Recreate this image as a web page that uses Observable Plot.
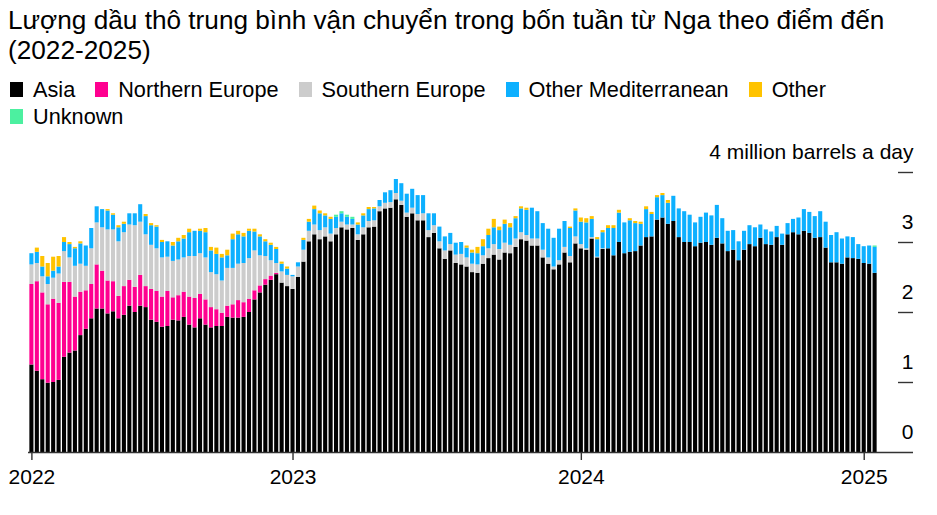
<!DOCTYPE html>
<html>
<head>
<meta charset="utf-8">
<script src="https://cdn.jsdelivr.net/npm/d3@7"></script>
<script src="https://cdn.jsdelivr.net/npm/@observablehq/plot@0.6"></script>
<style>
  html, body { margin: 0; padding: 0; background: #fff; }
  body { width: 937px; height: 515px; overflow: hidden; font-family: "Liberation Sans", Arial, sans-serif; color: #000; }
  #title { margin: 5px 0 0 8px; height: 60px; font-size: 26.2px; line-height: 30px; white-space: nowrap; }
  #legend { margin: 11px 0 0 10px; height: 54px; width: 927px; font-size: 21.7px; line-height: 27px; display: flex; flex-wrap: wrap; }
  .item { display: inline-flex; align-items: center; margin-right: 20px; height: 27px; }
  .sw { width: 13px; height: 15px; margin-right: 10px; display: inline-block; }
  #chart svg { display: block; }
</style>
</head>
<body>
<div id="title">Lượng dầu thô trung bình vận chuyển trong bốn tuần từ Nga theo điểm đến<br>(2022-2025)</div>
<div id="legend"></div>
<div id="chart"></div>
<script>
// Series names and colours
const seriesNames = ["Asia", "Northern Europe", "Southern Europe", "Other Mediterranean", "Other", "Unknown"];
const seriesColors = ["#000000", "#ff0090", "#cccccc", "#0db0ff", "#ffc300", "#4cf0a0"];

// Weekly periods (week ending Sunday), 30 Jan 2022 – 19 Jan 2025
const weeks = d3.utcWeek.range(new Date(Date.UTC(2022, 0, 30)), new Date(Date.UTC(2025, 0, 20)));

// Values, million barrels a day
const asia = [1.25,1.16,1.04,0.99,1.00,1.03,1.36,1.42,1.45,1.67, 1.76,1.91,2.05,2.05,1.98,2.01,1.91,1.96,2.09,2.00,
  2.09,2.07,1.89,1.86,1.79,1.80,1.89,1.88,1.93,1.82, 1.78,1.91,1.82,1.78,1.80,1.80,1.93,1.92,1.92,1.93,
  2.00,2.18,2.28,2.39,2.46,2.54,2.42,2.37,2.33,2.50, 2.72,3.01,3.11,3.04,3.08,3.01,3.11,3.21,3.18,3.20,
  3.03,3.11,3.21,3.22,3.44,3.48,3.49,3.61,3.53,3.36, 3.41,3.31,3.31,3.07,3.13,2.91,2.76,2.88,2.70,2.68,
  2.65,2.57,2.56,2.69,2.77,2.82,2.75,2.85,2.84,2.93, 3.04,3.02,2.95,2.95,2.78,2.69,2.61,2.68,2.85,2.71,
  2.98,2.91,2.89,3.05,2.78,2.90,2.91,2.81,3.00,2.84, 2.86,2.87,2.95,3.07,3.08,3.32,3.35,3.26,3.30,3.07,
  3.00,3.00,2.94,2.99,3.00,2.96,3.06,2.98,2.87,2.89, 2.74,2.89,2.97,2.94,3.06,2.97,2.96,3.07,2.96,3.11,
  3.14,3.11,3.16,3.13,3.06,3.07,2.92,2.71,2.71,2.69, 2.78,2.77,2.76,2.70,2.69,2.56];

const northernEurope = [1.15,1.28,1.24,1.12,1.19,1.10,1.07,1.01,0.77,0.62, 0.55,0.49,0.63,0.54,0.47,0.43,0.32,0.41,0.37,0.36,
  0.44,0.30,0.44,0.44,0.43,0.50,0.32,0.36,0.36,0.40, 0.42,0.35,0.36,0.29,0.24,0.19,0.16,0.19,0.25,0.21,
  0.19,0.13,0.10,0.08,0.06,0.02,0,0,0,0, 0,0,0,0,0,0,0,0,0,0,
  0,0,0,0,0,0,0,0,0,0, 0,0,0,0,0,0,0,0,0,0,
  0,0,0,0,0,0,0,0,0,0, 0,0,0,0,0,0,0,0,0,0,
  0,0,0,0,0,0,0,0,0,0, 0,0,0,0,0,0,0,0,0,0,
  0,0,0,0,0,0,0,0,0,0, 0,0,0,0,0,0,0,0,0,0,
  0,0,0,0,0,0,0,0,0,0, 0,0,0,0,0,0];

const southernEurope = [0.28,0.26,0.23,0.29,0.30,0.42,0.44,0.35,0.44,0.40, 0.35,0.51,0.60,0.62,0.73,0.74,0.78,0.77,0.79,0.88,
  0.76,0.74,0.63,0.61,0.56,0.49,0.52,0.51,0.49,0.58, 0.60,0.58,0.60,0.50,0.50,0.46,0.54,0.52,0.52,0.56,
  0.58,0.57,0.43,0.33,0.22,0.14,0.16,0.16,0.18,0.15, 0.17,0.15,0.14,0.13,0.13,0.11,0.09,0.08,0.07,0.05,
  0.08,0.10,0.09,0.09,0.07,0.08,0.08,0.09,0.06,0.06, 0.08,0.09,0.10,0.10,0.11,0.10,0.12,0.09,0.12,0.15,
  0.13,0.12,0.12,0.12,0.14,0.15,0.15,0.14,0.12,0.12, 0.10,0.08,0.10,0.10,0.11,0.09,0.04,0.06,0.08,0.09,
  0.10,0.06,0.02,0.02,0.01,0.01,0,0,0,0, 0,0,0,0,0,0,0,0,0,0,
  0,0,0,0,0,0,0,0,0,0, 0,0,0,0,0,0,0,0,0,0,
  0,0,0,0,0,0,0,0,0,0, 0,0,0,0,0,0];

const otherMediterranean = [0.16,0.16,0.14,0.11,0.10,0.10,0.13,0.19,0.25,0.29, 0.29,0.29,0.23,0.26,0.27,0.21,0.20,0.12,0.16,0.17,
  0.25,0.26,0.28,0.31,0.22,0.22,0.22,0.26,0.27,0.34, 0.36,0.32,0.36,0.31,0.29,0.33,0.18,0.41,0.42,0.38,
  0.39,0.27,0.27,0.21,0.22,0.20,0.11,0.09,0.02,0.06, 0.14,0.13,0.22,0.24,0.17,0.21,0.16,0.12,0.11,0.08,
  0.14,0.17,0.17,0.17,0.09,0.15,0.17,0.20,0.25,0.27, 0.27,0.27,0.26,0.24,0.17,0.21,0.20,0.16,0.17,0.17,
  0.14,0.16,0.16,0.13,0.19,0.24,0.27,0.27,0.25,0.29, 0.34,0.36,0.44,0.39,0.38,0.41,0.41,0.45,0.37,0.40,
  0.37,0.32,0.37,0.26,0.25,0.23,0.29,0.39,0.42,0.44, 0.45,0.40,0.31,0.40,0.32,0.32,0.32,0.30,0.36,0.41,
  0.44,0.39,0.34,0.37,0.42,0.42,0.47,0.36,0.29,0.28, 0.27,0.27,0.27,0.27,0.19,0.21,0.19,0.16,0.16,0.16,
  0.19,0.24,0.31,0.30,0.31,0.37,0.37,0.39,0.43,0.36, 0.30,0.30,0.21,0.24,0.26,0.37];

const other = [0,0.06,0.15,0.19,0.20,0.15,0.07,0.03,0.02,0.03, 0,0,0,0,0.02,0.02,0.03,0.03,0,0,
  0,0.03,0.03,0.02,0.03,0,0.05,0.05,0.05,0.05, 0,0.03,0.06,0.05,0.09,0.05,0.08,0.08,0.05,0.05,
  0.03,0.04,0.03,0.03,0.03,0.03,0.03,0.03,0,0, 0.03,0.04,0.05,0.04,0.03,0.03,0,0,0,0,
  0.03,0.03,0.03,0.02,0,0,0,0,0,0, 0,0,0,0,0,0,0,0,0,0,
  0.03,0.04,0.09,0.10,0.09,0.12,0.05,0.06,0.06,0.03, 0.03,0.03,0,0,0,0,0,0,0,0.02,
  0.03,0.06,0.06,0.04,0.03,0.03,0.04,0.04,0.04,0, 0.03,0.03,0.03,0.04,0.03,0.03,0.03,0.04,0,0,
  0,0,0,0,0,0,0,0,0,0, 0,0,0,0,0,0,0,0,0,0,
  0,0,0,0,0,0,0,0,0,0, 0,0,0,0,0,0];

const unknown = [0,0,0,0,0,0,0,0,0,0, 0,0,0,0,0,0,0,0,0,0,
  0,0,0,0,0,0,0,0,0,0, 0,0,0,0,0,0,0,0,0,0,
  0,0,0,0,0,0,0,0,0,0, 0,0,0,0,0,0,0.03,0.03,0.03,0.03,
  0,0,0,0,0,0,0,0,0,0, 0,0,0,0,0,0,0,0,0,0,
  0,0,0,0,0,0,0,0,0,0, 0,0,0,0,0,0,0,0,0,0,
  0,0,0,0,0,0,0,0,0,0, 0,0,0,0,0,0,0,0,0,0,
  0,0,0,0,0,0,0,0,0,0, 0,0,0,0,0,0,0,0,0,0,
  0,0,0,0,0,0,0,0,0,0, 0,0,0,0,0,0.02];

const yTicks = [0, 1, 2, 3, 4];
const yTopLabel = "4 million barrels a day";

// Build long table
const seriesValues = [asia, northernEurope, southernEurope, otherMediterranean, other, unknown];
const rows = [];
seriesNames.forEach((name, s) => {
  weeks.forEach((date, i) => rows.push({date, series: name, value: seriesValues[s][i]}));
});

// x tick positions: first bar and first week of each new year
const xTicks = weeks.filter((d, i) => i === 0 || d.getUTCFullYear() !== weeks[i - 1].getUTCFullYear());

// Legend
const legend = document.getElementById("legend");
seriesNames.forEach((name, i) => {
  const item = document.createElement("span");
  item.className = "item";
  item.innerHTML = `<span class="sw" style="background:${seriesColors[i]}"></span><span>${name}</span>`;
  legend.appendChild(item);
});

const chart = Plot.plot({
  width: 937,
  height: 385,
  marginTop: 42,
  marginBottom: 63,
  marginLeft: 28,
  marginRight: 24,
  style: {fontFamily: "'Liberation Sans', Arial, sans-serif", fontSize: "21px", color: "#000", background: "#fff"},
  x: {type: "band", domain: weeks, range: [28, 878], padding: 0.25, label: null},
  y: {domain: [0, 4], range: [322, 42], label: null},
  color: {domain: seriesNames, range: seriesColors},
  marks: [
    Plot.barY(rows, {x: "date", y: "value", fill: "series"}),
    Plot.ruleY([0], {stroke: "#333", strokeWidth: 1.6}),
    Plot.ruleY(yTicks.filter(d => d > 0), {insetLeft: 870, stroke: "#333", strokeWidth: 1.4}),
    Plot.axisY({anchor: "right", ticks: yTicks, tickSize: 0, tickPadding: 0, textAnchor: "end", dy: -20,
      fontSize: 21, label: null, tickFormat: d => d === 4 ? yTopLabel : String(d)}),
    Plot.axisX({ticks: xTicks, tickSize: 8, tickPadding: 9, fontSize: 21, stroke: "#333", strokeWidth: 1.4,
      label: null, tickFormat: d => String(d.getUTCFullYear())})
  ]
});
document.getElementById("chart").appendChild(chart);
</script>
</body>
</html>
